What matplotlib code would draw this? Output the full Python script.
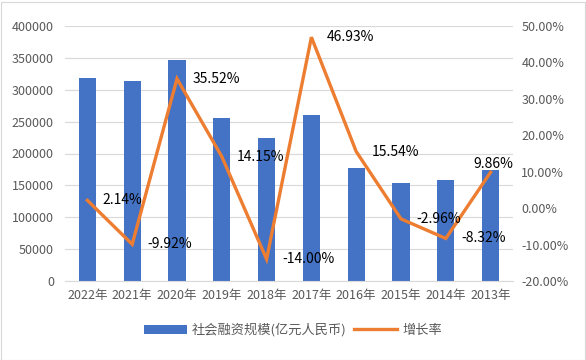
import matplotlib
matplotlib.use("Agg")
import matplotlib.pyplot as plt
from matplotlib.ticker import FuncFormatter
from matplotlib.patches import Rectangle

plt.rcParams['font.family'] = ['Noto Sans CJK SC', 'DejaVu Sans']

# 数据
years = ["2022年", "2021年", "2020年", "2019年", "2018年",
         "2017年", "2016年", "2015年", "2014年", "2013年"]
financing = [319000, 313000, 347000, 256000, 224500,
             261000, 177500, 154000, 158500, 174000]
growth = [2.14, -9.92, 35.52, 14.15, -14.00, 46.93, 15.54, -2.96, -8.32, 9.86]

blue = "#4472C4"
orange = "#ED7D31"
gray = "#595959"

fig = plt.figure(figsize=(5.86, 3.6), dpi=100)
ax = fig.add_axes([65 / 586, 1 - 281 / 360, 448 / 586, 255 / 360])
ax2 = ax.twinx()

x = list(range(len(years)))
ax.bar(x, financing, width=0.38, color=blue, zorder=2, label="社会融资规模(亿元人民币)")
ax.set_xlim(-0.5, len(years) - 0.5)
ax.set_ylim(0, 400000)
ax.set_yticks(range(0, 400001, 50000))
ax.grid(axis="y", color="#D9D9D9", linewidth=0.8, zorder=0)
ax.set_axisbelow(True)

ax2.plot(x, growth, color=orange, linewidth=2.4, zorder=3,
         solid_joinstyle="miter", label="增长率")
ax2.set_ylim(-20, 50)
ax2.set_yticks(range(-20, 51, 10))
ax2.yaxis.set_major_formatter(FuncFormatter(lambda v, p: f"{v:.2f}%"))

for i, (xi, g) in enumerate(zip(x, growth)):
    if i == len(x) - 1:
        # 最后一个标签放在点的上方
        ax2.annotate(f"{g:.2f}%", (xi, g), xytext=(2, 1), textcoords="offset points",
                     ha="center", va="bottom", fontsize=10, color="black", zorder=4)
    else:
        ax2.annotate(f"{g:.2f}%", (xi, g), xytext=(11, 0), textcoords="offset points",
                     ha="left", va="center", fontsize=10, color="black", zorder=4)

ax.set_xticks(x)
ax.set_xticklabels(years)
for a in (ax, ax2):
    for s in a.spines.values():
        s.set_visible(False)
    a.tick_params(length=0, labelsize=9, labelcolor=gray)
ax.spines["bottom"].set_visible(True)
ax.spines["bottom"].set_color("#D9D9D9")
ax.tick_params(axis="x", pad=6)
ax.tick_params(axis="y", pad=8)
ax2.tick_params(axis="y", pad=6)

h1, l1 = ax.get_legend_handles_labels()
h2, l2 = ax2.get_legend_handles_labels()
fig.legend(h1 + h2, l1 + l2, loc="center", bbox_to_anchor=(0.5, 1 - 330 / 360),
           ncol=2, frameon=False, fontsize=9.5, labelcolor=gray,
           handlelength=3.2, columnspacing=0.6, handletextpad=0.4)

fig.add_artist(Rectangle((0.5 / 586, 0.5 / 360), 584 / 586, 358 / 360,
                         transform=fig.transFigure, fill=False,
                         edgecolor="#D9D9D9", linewidth=0.8))

fig.savefig("out.png", dpi=100)
